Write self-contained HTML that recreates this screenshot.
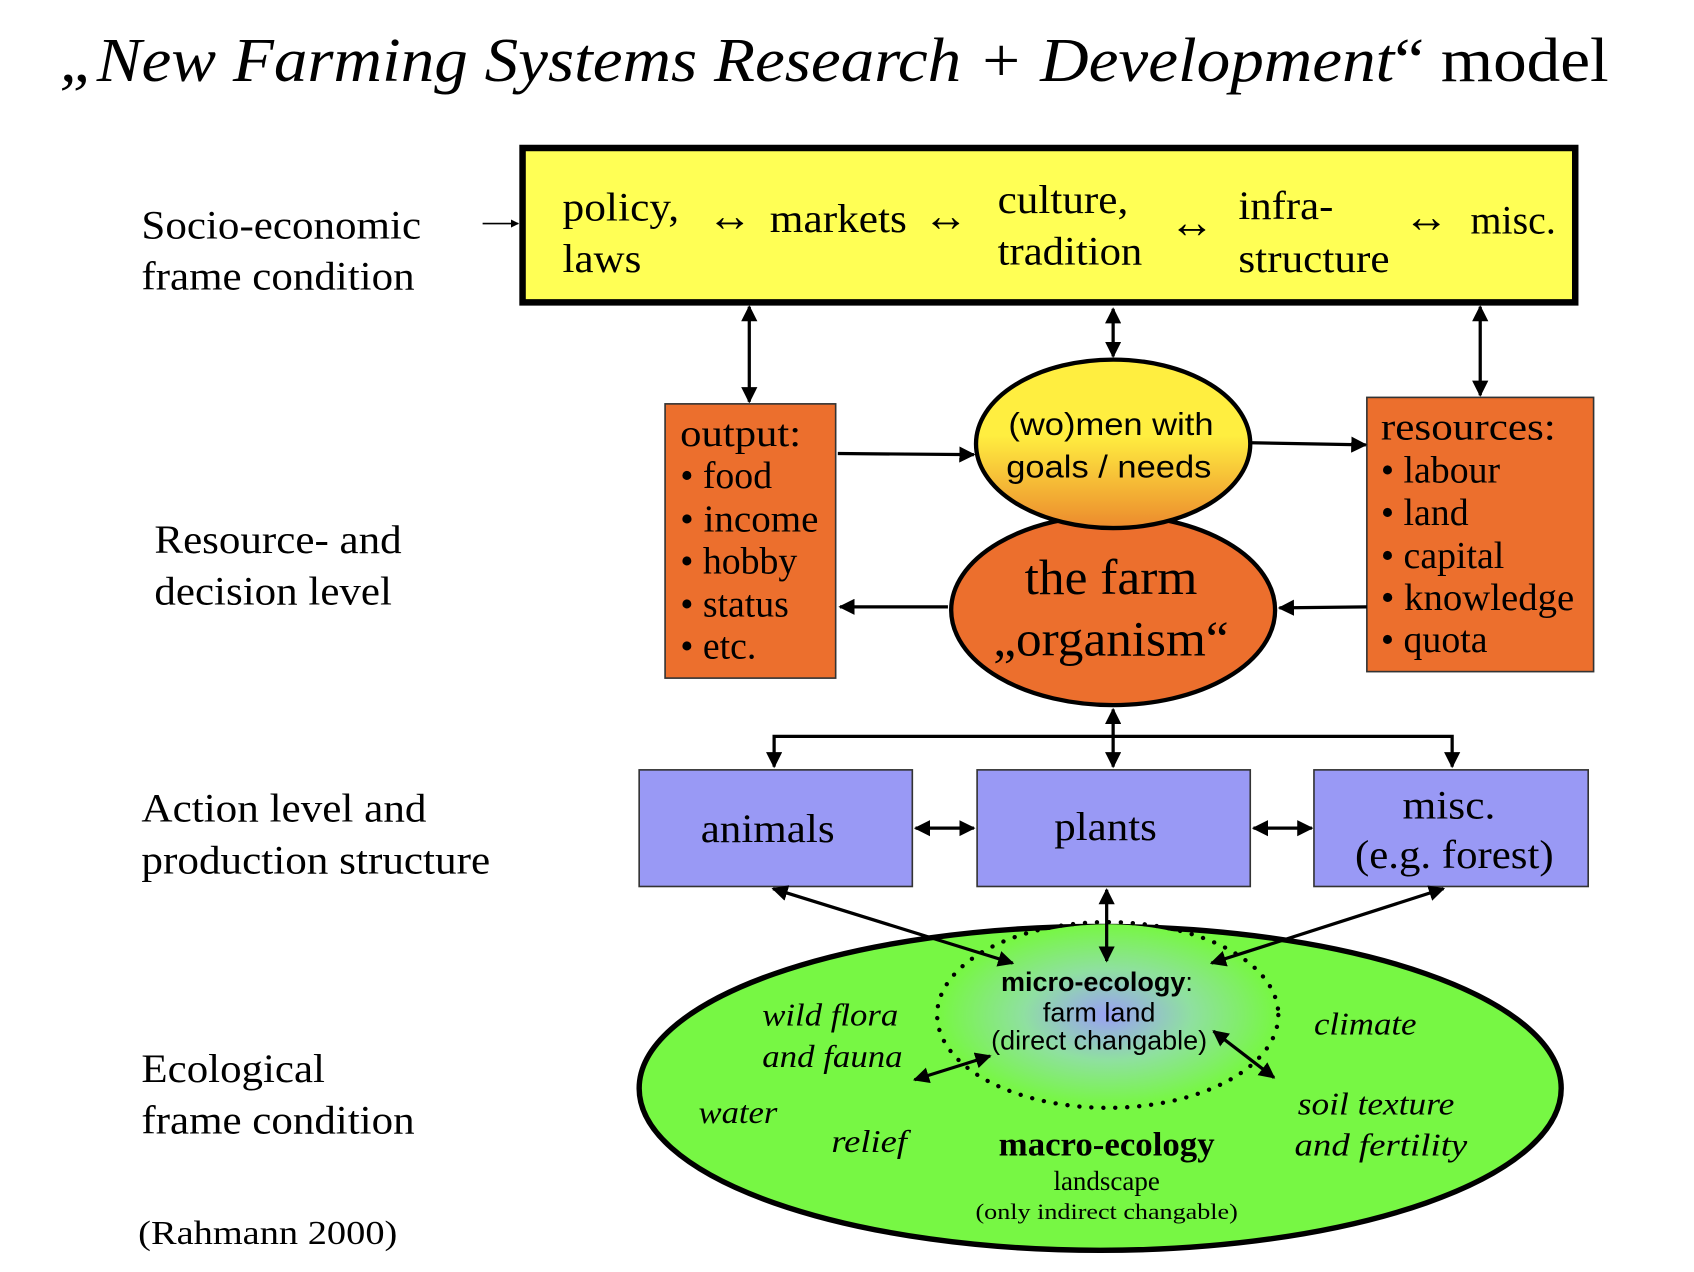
<!DOCTYPE html>
<html><head><meta charset="utf-8"><style>html,body{margin:0;padding:0;background:#fff}svg{display:block}</style></head>
<body>
<svg width="1694" height="1272" viewBox="0 0 1569 1178" xmlns="http://www.w3.org/2000/svg">
<defs>
<marker id="a" viewBox="0 0 10 10" refX="9" refY="5" markerWidth="5" markerHeight="5" orient="auto-start-reverse"><path d="M0,0 L10,5 L0,10 z" fill="#000"/></marker>
<linearGradient id="yg" x1="0" y1="0" x2="0" y2="1"><stop offset="0.45" stop-color="#ffee40"/><stop offset="1" stop-color="#ec8a2d"/></linearGradient>
<radialGradient id="bg"><stop offset="0" stop-color="#9aa0f5"/><stop offset="0.5" stop-color="#8fe0a0"/><stop offset="1" stop-color="#77f744"/></radialGradient>
</defs>
<g font-family="Liberation Serif, serif" fill="#000" lengthAdjust="spacingAndGlyphs">
<text x="55" y="75" font-size="58" textLength="1435" lengthAdjust="spacingAndGlyphs"><tspan font-style="italic">„New Farming Systems Research + Development</tspan>“ model</text>

<g font-size="37">
<text x="131" y="221" textLength="259" lengthAdjust="spacingAndGlyphs">Socio-economic</text><text x="131" y="268" textLength="253" lengthAdjust="spacingAndGlyphs">frame condition</text>
<text x="143" y="512" textLength="229" lengthAdjust="spacingAndGlyphs">Resource- and</text><text x="143" y="560" textLength="220" lengthAdjust="spacingAndGlyphs">decision level</text>
<text x="131" y="761" textLength="264" lengthAdjust="spacingAndGlyphs">Action level and</text><text x="131" y="809" textLength="323" lengthAdjust="spacingAndGlyphs">production structure</text>
<text x="131" y="1002" textLength="170" lengthAdjust="spacingAndGlyphs">Ecological</text><text x="131" y="1050" textLength="253" lengthAdjust="spacingAndGlyphs">frame condition</text>
</g>
<text x="128" y="1152" font-size="31" textLength="240" lengthAdjust="spacingAndGlyphs">(Rahmann 2000)</text>
<line x1="447" y1="207" x2="480" y2="207" stroke="#000" stroke-width="1.5" marker-end="url(#a)"/>

<rect x="484" y="137" width="975" height="143" fill="#ffff55" stroke="#000" stroke-width="6"/>
<g font-size="37">
<text x="521" y="204" textLength="108" lengthAdjust="spacingAndGlyphs">policy,</text><text x="521" y="252" textLength="73" lengthAdjust="spacingAndGlyphs">laws</text>
<text x="655" y="214" font-size="42">↔</text><text x="713" y="215" textLength="127" lengthAdjust="spacingAndGlyphs">markets</text><text x="855" y="214" font-size="42">↔</text>
<text x="924" y="197" textLength="121" lengthAdjust="spacingAndGlyphs">culture,</text><text x="924" y="245" textLength="134" lengthAdjust="spacingAndGlyphs">tradition</text>
<text x="1083" y="220" font-size="42">↔</text>
<text x="1147" y="203" textLength="88" lengthAdjust="spacingAndGlyphs">infra-</text><text x="1147" y="252" textLength="140" lengthAdjust="spacingAndGlyphs">structure</text>
<text x="1300" y="215" font-size="42">↔</text><text x="1362" y="216" textLength="79" lengthAdjust="spacingAndGlyphs">misc.</text>
</g>

<g stroke="#000" stroke-width="3" fill="none">
<line x1="694" y1="284" x2="694" y2="372" marker-start="url(#a)" marker-end="url(#a)"/>
<line x1="1031" y1="286" x2="1031" y2="330" marker-start="url(#a)" marker-end="url(#a)"/>
<line x1="1371" y1="284" x2="1371" y2="366" marker-start="url(#a)" marker-end="url(#a)"/>
</g>

<rect x="616" y="374" width="158" height="254" fill="#ec6f2d" stroke="#333" stroke-width="1.5"/>
<g font-size="35">
<text x="630" y="413" textLength="112" lengthAdjust="spacingAndGlyphs">output:</text><text x="630" y="452">• food</text><text x="630" y="492" textLength="128" lengthAdjust="spacingAndGlyphs">• income</text><text x="630" y="531">• hobby</text><text x="630" y="571">• status</text><text x="630" y="610">• etc.</text>
</g>
<rect x="1266" y="368" width="210" height="254" fill="#ec6f2d" stroke="#333" stroke-width="1.5"/>
<g font-size="35">
<text x="1279" y="407" textLength="162" lengthAdjust="spacingAndGlyphs">resources:</text><text x="1279" y="447">• labour</text><text x="1279" y="486">• land</text><text x="1279" y="526">• capital</text><text x="1279" y="565" textLength="179" lengthAdjust="spacingAndGlyphs">• knowledge</text><text x="1279" y="604">• quota</text>
</g>

<ellipse cx="1031" cy="565" rx="150" ry="88" fill="#ec6f2d" stroke="#000" stroke-width="4"/>
<ellipse cx="1031" cy="411" rx="127" ry="78" fill="url(#yg)" stroke="#000" stroke-width="4"/>
<g font-family="Liberation Sans, sans-serif" font-size="29" text-anchor="middle">
<text x="1029" y="403" textLength="190" lengthAdjust="spacingAndGlyphs">(wo)men with</text><text x="1027" y="442" textLength="190" lengthAdjust="spacingAndGlyphs">goals / needs</text>
</g>
<g font-size="46" text-anchor="middle"><text x="1029" y="550" textLength="160" lengthAdjust="spacingAndGlyphs">the farm</text><text x="1029" y="607" textLength="218" lengthAdjust="spacingAndGlyphs">„organism“</text></g>

<g stroke="#000" stroke-width="3" fill="none">
<line x1="776" y1="420" x2="902" y2="421" marker-end="url(#a)"/>
<line x1="1159" y1="410" x2="1265" y2="412" marker-end="url(#a)"/>
<line x1="878" y1="562" x2="778" y2="562" marker-end="url(#a)"/>
<line x1="1266" y1="562" x2="1185" y2="563" marker-end="url(#a)"/>
<line x1="1031" y1="657" x2="1031" y2="710" marker-start="url(#a)" marker-end="url(#a)"/>
<polyline points="717,710 717,682 1345,682 1345,710" marker-start="url(#a)" marker-end="url(#a)"/>
</g>

<g fill="#9999f5" stroke="#333" stroke-width="1.5">
<rect x="592" y="713" width="253" height="108"/><rect x="905" y="713" width="253" height="108"/><rect x="1217" y="713" width="254" height="108"/>
</g>
<g font-size="37" text-anchor="middle">
<text x="711" y="780" textLength="124" lengthAdjust="spacingAndGlyphs">animals</text><text x="1024" y="778" textLength="95" lengthAdjust="spacingAndGlyphs">plants</text><text x="1342" y="758" textLength="86" lengthAdjust="spacingAndGlyphs">misc.</text><text x="1347" y="804" textLength="184" lengthAdjust="spacingAndGlyphs">(e.g. forest)</text>
</g>
<g stroke="#000" stroke-width="3" fill="none">
<line x1="848" y1="767" x2="902" y2="767" marker-start="url(#a)" marker-end="url(#a)"/>
<line x1="1161" y1="767" x2="1215" y2="767" marker-start="url(#a)" marker-end="url(#a)"/>
</g>

<ellipse cx="1019" cy="1008" rx="427" ry="150" fill="#77f744" stroke="#000" stroke-width="5"/>
<ellipse cx="1026" cy="940" rx="156" ry="84" fill="url(#bg)"/>
<ellipse cx="1026" cy="940" rx="158" ry="86" fill="none" stroke="#000" stroke-width="4" stroke-dasharray="0.1 11" stroke-linecap="round"/>

<g stroke="#000" stroke-width="3" fill="none">
<line x1="716" y1="823" x2="938" y2="892" marker-start="url(#a)" marker-end="url(#a)"/>
<line x1="1025" y1="824" x2="1025" y2="890" marker-start="url(#a)" marker-end="url(#a)"/>
<line x1="1337" y1="823" x2="1122" y2="892" marker-start="url(#a)" marker-end="url(#a)"/>
<line x1="847" y1="1000" x2="917" y2="978" marker-start="url(#a)" marker-end="url(#a)"/>
<line x1="1124" y1="955" x2="1180" y2="998" marker-start="url(#a)" marker-end="url(#a)"/>
</g>

<g font-family="Liberation Sans, sans-serif" font-size="25" text-anchor="middle">
<text x="1016" y="918" font-weight="bold">micro-ecology<tspan font-weight="normal">:</tspan></text>
<text x="1018" y="946">farm land</text><text x="1018" y="972">(direct changable)</text>
</g>
<g font-size="29" font-style="italic">
<text x="706" y="950" textLength="126" lengthAdjust="spacingAndGlyphs">wild flora</text><text x="706" y="988" textLength="130" lengthAdjust="spacingAndGlyphs">and fauna</text>
<text x="1217" y="958" textLength="95" lengthAdjust="spacingAndGlyphs">climate</text><text x="647" y="1040" textLength="73" lengthAdjust="spacingAndGlyphs">water</text><text x="770" y="1067" textLength="70" lengthAdjust="spacingAndGlyphs">relief</text>
<text x="1202" y="1032" textLength="145" lengthAdjust="spacingAndGlyphs">soil texture</text><text x="1199" y="1070" textLength="160" lengthAdjust="spacingAndGlyphs">and  fertility</text>
</g>
<g text-anchor="middle">
<text x="1025" y="1070" font-size="31" font-weight="bold" textLength="200" lengthAdjust="spacingAndGlyphs">macro-ecology</text>
<text x="1025" y="1102" font-size="25">landscape</text>
<text x="1025" y="1129" font-size="21" textLength="243" lengthAdjust="spacingAndGlyphs">(only indirect changable)</text>
</g>
</g>
</svg>
</body></html>
